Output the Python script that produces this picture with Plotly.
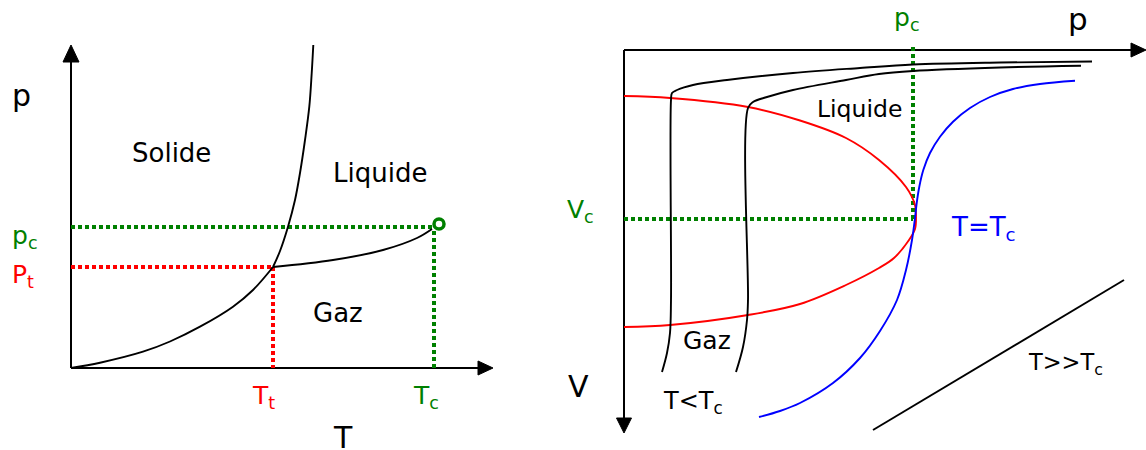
import plotly.graph_objects as go

# ---------------- data (diagram units = image pixels) ----------------
# Left: p-T phase diagram
sub_T = [71, 100, 143, 170, 200, 233, 253, 273]
sub_p = [368, 362.7, 351.7, 341.5, 326.7, 306.7, 290, 267]
melt_T = [273, 280, 288, 295, 300, 305, 309.3, 311.7, 313.3]
melt_p = [267, 251, 226.7, 200, 173, 140, 106.7, 73.3, 45]
vap_T = [273, 333, 383, 417, 432]
vap_p = [267, 260, 250, 238, 229]
crit_T, crit_p = 439, 224
pc_level, Tc_level = 227, 434
Pt_level, Tt_level = 267, 273
origin_L = (71, 368)
Taxis_end, paxis_end = 493, 45

# Right: V-p diagram (p to the right, V downwards)
coex_p = [624, 670, 748, 800, 846, 879, 906, 915, 916, 915, 909, 894, 879, 846, 800, 748, 670, 624]
coex_V = [96, 98, 107, 120.5, 138, 160, 187, 205, 217, 229, 240, 258, 268, 285, 304, 315, 325, 327]
crit_iso_p = [759, 780, 800, 833, 860, 880, 897, 906, 912, 915, 916.7, 919.3, 923.3, 930, 940, 953, 970, 990, 1013, 1040, 1075]
crit_iso_V = [417, 411, 403, 383, 358, 331, 300, 270, 240, 218, 203, 186.7, 170, 153, 136.7, 121.7, 108, 97, 89, 84, 80.7]
iso1_p = [662, 667, 670, 671, 671, 672, 677, 693, 727, 793, 860, 913, 1000, 1092]
iso1_V = [372, 353, 333, 300, 100, 93, 90, 85, 80, 73, 68, 64.5, 62.5, 61.5]
iso2_p = [736, 743, 747, 748, 748, 753, 767, 793, 846, 879, 913, 1000, 1081]
iso2_V = [372, 347, 320, 300, 108, 102, 97, 90, 80, 74, 71, 67.5, 65.7]
hot_p = [873, 1124]
hot_V = [430, 280]
pc_R, Vc_R = 913, 219
origin_R = (624, 50)
paxisR_end, VaxisR_end = 1146, 433

BLACK, RED, GREEN, BLUE = "#000000", "#ff0000", "#008000", "#0000ff"
FONT = "DejaVu Sans"

fig = go.Figure()


def line(x, y, color=BLACK, width=2, dash=None, shape="linear", smoothing=1.0):
    ln = dict(color=color, width=width, shape=shape, simplify=False)
    if shape == "spline":
        ln["smoothing"] = smoothing
    if dash:
        ln["dash"] = dash
    fig.add_trace(go.Scatter(x=x, y=y, mode="lines", line=ln, hoverinfo="skip", showlegend=False))


def tri(x, y, color=BLACK):
    fig.add_trace(go.Scatter(x=x + [x[0]], y=y + [y[0]], mode="lines", fill="toself",
                             fillcolor=color, line=dict(color=color, width=1),
                             hoverinfo="skip", showlegend=False))


DOT = "4px,3px"
CW = 1.9

# ---------- left diagram ----------
ox, oy = origin_L
line([ox, Taxis_end - 14], [oy, oy])
tri([Taxis_end - 15, Taxis_end, Taxis_end - 15], [oy - 7, oy, oy + 7])
line([ox, ox], [oy, paxis_end + 16])
tri([ox - 8, ox, ox + 8], [paxis_end + 17, paxis_end, paxis_end + 17])

line([ox, Tc_level], [pc_level, pc_level], GREEN, 4, DOT)
line([Tc_level, Tc_level], [pc_level + 4, oy], GREEN, 4, DOT)
line([ox, Tt_level], [Pt_level, Pt_level], RED, 4, DOT)
line([Tt_level, Tt_level], [Pt_level, oy], RED, 4, DOT)

line(sub_T, sub_p, BLACK, CW, shape="spline")
line(melt_T, melt_p, BLACK, CW, shape="spline")
line(vap_T, vap_p, BLACK, CW, shape="spline")
fig.add_trace(go.Scatter(x=[crit_T], y=[crit_p], mode="markers",
                         marker=dict(symbol="circle-open", size=10, color=GREEN,
                                     line=dict(color=GREEN, width=3.5)),
                         hoverinfo="skip", showlegend=False))

# ---------- right diagram ----------
rx, ry = origin_R
line([rx, paxisR_end - 14], [ry, ry])
tri([paxisR_end - 15, paxisR_end, paxisR_end - 15], [ry - 7, ry, ry + 7])
line([rx, rx], [ry, VaxisR_end - 14])
tri([rx - 7.5, rx, rx + 7.5], [VaxisR_end - 15, VaxisR_end, VaxisR_end - 15])

line([rx, pc_R], [Vc_R, Vc_R], GREEN, 4, DOT)
line([pc_R, pc_R], [47, Vc_R], GREEN, 4, DOT)

line(coex_p, coex_V, RED, CW, shape="spline", smoothing=1.0)
line(crit_iso_p, crit_iso_V, BLUE, CW, shape="spline", smoothing=1.0)
line(iso1_p, iso1_V, BLACK, CW, shape="spline", smoothing=1.0)
line(iso2_p, iso2_V, BLACK, CW, shape="spline", smoothing=1.0)
line(hot_p, hot_V, BLACK, CW)

# ---------- labels ----------
labels = [
    # x_left, baseline, text, size, color
    (12, 107, "p", 30, BLACK),
    (132, 163, "Solide", 26, BLACK),
    (333, 183, "Liquide", 26, BLACK),
    (313, 323, "Gaz", 26, BLACK),
    (12, 243, "p<sub>c</sub>", 25, GREEN),
    (12, 282, "P<sub>t</sub>", 25, RED),
    (252, 403, "T<sub>t</sub>", 25, RED),
    (413, 403, "T<sub>c</sub>", 25, GREEN),
    (333, 449, "T", 30, BLACK),
    (567, 217, "V<sub>c</sub>", 25, GREEN),
    (683, 350, "Gaz", 25, BLACK),
    (568, 398, "V", 30, BLACK),
    (663, 408, "T&lt;T<sub>c</sub>", 24, BLACK),
    (817, 118, "Liquide", 23.5, BLACK),
    (894, 25, "p<sub>c</sub>", 25, GREEN),
    (1068, 30, "p", 31, BLACK),
    (951, 235, "T=T<sub>c</sub>", 26, BLUE),
    (1028, 370, "T&gt;&gt;T<sub>c</sub>", 22.5, BLACK),
]
for x, base, txt, size, col in labels:
    extra = -5 if "<sub>" in txt else 0
    fig.add_annotation(x=x, y=base, text=txt, showarrow=False, xanchor="left", yanchor="bottom",
                       yshift=-0.28 * size + extra, xshift=-2,
                       font=dict(family=FONT, size=size, color=col))

fig.update_layout(
    width=1146, height=450,
    margin=dict(l=0, r=0, t=0, b=0),
    paper_bgcolor="white", plot_bgcolor="white",
    xaxis=dict(range=[0, 1146], visible=False, fixedrange=True),
    yaxis=dict(range=[450, 0], visible=False, fixedrange=True),
    showlegend=False,
)
fig.write_html("out.html", config={"displayModeBar": False},
               post_script="document.body.style.margin='0px';document.body.style.overflow='hidden';")
